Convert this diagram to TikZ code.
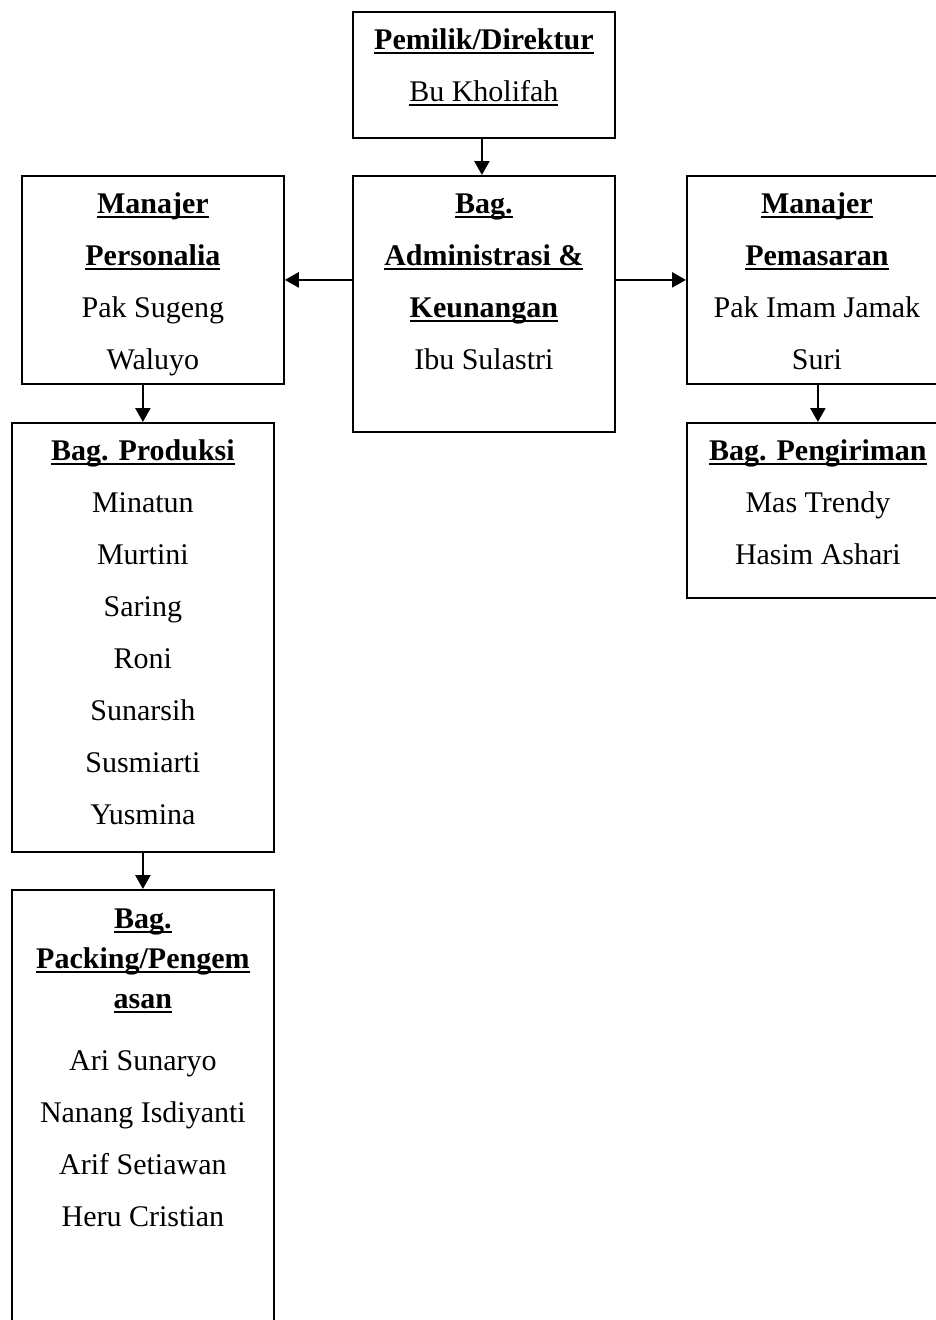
\documentclass[tikz,border=0pt]{standalone}
\usepackage{fontspec}
\setmainfont{Liberation Serif}
\usetikzlibrary{arrows.meta}

% underlined headings (bold) and underlined plain names
\newcommand{\ulb}[1]{\setbox0\hbox{\bfseries #1}\rlap{\rule[-5pt]{\wd0}{2pt}}\box0}
\newcommand{\ulr}[1]{\setbox0\hbox{#1}\rlap{\rule[-4.5pt]{\wd0}{1.4pt}}\box0}

\tikzset{
  unit/.style={draw, line width=1.8pt, rectangle, inner sep=0pt, anchor=north west},
  txt/.style={anchor=base, inner sep=0pt, font=\fontsize{30}{52}\selectfont},
  txtclose/.style={anchor=base, inner sep=0pt, font=\fontsize{30}{40}\selectfont},
  arr/.style={line width=2.4pt, -{Triangle[length=14pt,width=15pt]}}
}

\begin{document}
\begin{tikzpicture}[x=1pt,y=-1pt]
\useasboundingbox (0,0) rectangle (936,1320);
\clip (0,0) rectangle (936,1320);

% boxes
\node[unit, minimum width=262pt, minimum height=126pt] (pemilik)    at (352,11)  {};
\node[unit, minimum width=262pt, minimum height=256pt] (admin)      at (352,175) {};
\node[unit, minimum width=262pt, minimum height=208pt] (personalia) at (21,175)  {};
\node[unit, minimum width=260pt, minimum height=208pt] (pemasaran)  at (686,175) {};
\node[unit, minimum width=262pt, minimum height=429pt] (produksi)   at (11,422)  {};
\node[unit, minimum width=262pt, minimum height=175pt] (pengiriman) at (686,422) {};
\node[unit, minimum width=262pt, minimum height=460pt] (packing)    at (11,889)  {};

% texts
\node[txt] (pemilikT) at ([yshift=-38pt]pemilik.north)
  {\begin{tabular}[t]{@{}c@{}}\ulb{Pemilik/Direktur}\\\ulr{Bu Kholifah}\end{tabular}};
\node[txt] (adminT) at ([yshift=-38pt]admin.north)
  {\begin{tabular}[t]{@{}c@{}}\ulb{Bag.}\\\ulb{Administrasi \&}\\\ulb{Keunangan}\\Ibu Sulastri\end{tabular}};
\node[txt] (personaliaT) at ([yshift=-38pt]personalia.north)
  {\begin{tabular}[t]{@{}c@{}}\ulb{Manajer}\\\ulb{Personalia}\\Pak Sugeng\\Waluyo\end{tabular}};
\node[txt] (pemasaranT) at ([yshift=-38pt]pemasaran.north)
  {\begin{tabular}[t]{@{}c@{}}\ulb{Manajer}\\\ulb{Pemasaran}\\Pak Imam Jamak\\Suri\end{tabular}};
\node[txt] (produksiT) at ([yshift=-38pt]produksi.north)
  {\begin{tabular}[t]{@{}c@{}}\ulb{Bag. Produksi}\\Minatun\\Murtini\\Saring\\Roni\\Sunarsih\\Susmiarti\\Yusmina\end{tabular}};
\node[txt] (pengirimanT) at ([yshift=-38pt]pengiriman.north)
  {\begin{tabular}[t]{@{}c@{}}\ulb{Bag. Pengiriman}\\Mas Trendy\\Hasim Ashari\end{tabular}};
\node[txtclose] (packingH) at ([yshift=-39pt]packing.north)
  {\begin{tabular}[t]{@{}c@{}}\ulb{Bag.}\\\ulb{Packing/Pengem}\\\ulb{asan}\end{tabular}};
\node[txt] (packingT) at ([yshift=-181pt]packing.north)
  {\begin{tabular}[t]{@{}c@{}}Ari Sunaryo\\Nanang Isdiyanti\\Arif Setiawan\\Heru Cristian\end{tabular}};

% connectors
\draw[arr] ([xshift=-2pt]pemilik.south) -- ([xshift=-2pt]admin.north);
\draw[arr] (admin.west |- personalia.east) -- (personalia.east);
\draw[arr] (admin.east |- pemasaran.west) -- (pemasaran.west);
\draw[arr] (produksi.north |- personalia.south) -- (produksi.north);
\draw[arr] (pengiriman.north |- pemasaran.south) -- (pengiriman.north);
\draw[arr] (produksi.south) -- (packing.north);
\end{tikzpicture}
\end{document}
